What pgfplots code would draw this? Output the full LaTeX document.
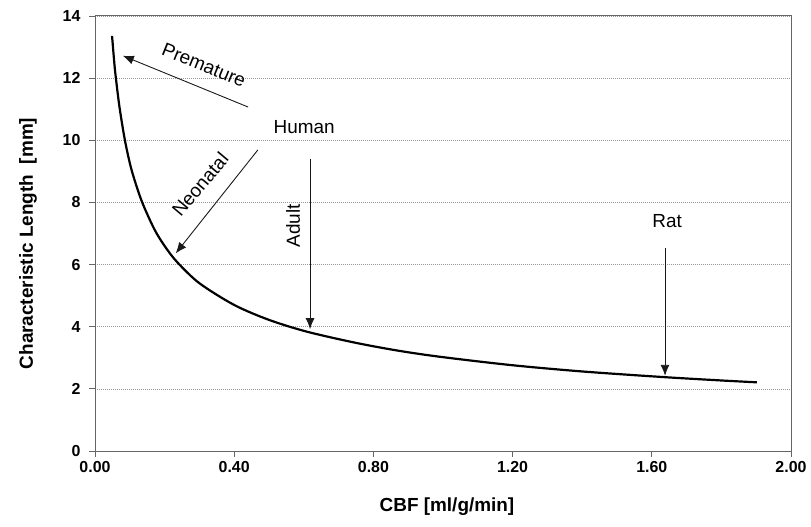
\documentclass[border=0pt]{standalone}
\usepackage{pgfplots}
\pgfplotsset{compat=1.18}
\usetikzlibrary{arrows.meta}
\usepackage{fontspec}
\setmainfont{Liberation Sans}
\begin{document}
\begin{tikzpicture}
\begin{axis}[
  scale only axis,
  width=696bp, height=435bp,
  xmin=0, xmax=2, ymin=0, ymax=14,
  xtick={0,0.4,0.8,1.2,1.6,2.0},
  xticklabels={0.00,0.40,0.80,1.20,1.60,2.00},
  ytick={0,2,4,6,8,10,12,14},
  /pgf/number format/assume math mode=true,
  ticklabel style={font=\fontsize{16}{18}\selectfont\bfseries},
  yticklabel style={xshift=-5bp},
  xticklabel style={yshift=-1bp},
  tick align=outside, xtick pos=bottom, ytick pos=left,
  major tick length=6bp,
  tick style={gray!80!black, line width=0.8pt},
  axis line style={gray!80!black, line width=1pt},
  ymajorgrids,
  grid style={dash pattern=on 1bp off 1bp, gray!80, line width=0.7pt},
  xlabel={CBF [ml/g/min]},
  ylabel={Characteristic Length\ \ [mm]},
  label style={font=\fontsize{19}{21}\selectfont\bfseries},
  xlabel style={at={(axis description cs:0.5,0)}, anchor=center, yshift=-56bp, xshift=4bp},
  ylabel style={at={(axis description cs:0,0.5)}, anchor=center, xshift=-10bp, yshift=67bp},
  clip=false,
]
\addplot[black, line width=2.2pt, smooth, tension=0.5] coordinates {
(0.049,13.36) (0.055,12.55) (0.059,12.1) (0.07,11.1) (0.086,10.0) (0.105,9.05)
(0.134,8.05) (0.17,7.15) (0.20,6.60) (0.236,6.08) (0.30,5.40) (0.40,4.70) (0.50,4.22)
(0.609,3.84) (0.75,3.48) (0.876,3.22) (1.0,3.02) (1.2,2.76) (1.4,2.56)
(1.632,2.38) (1.8,2.27) (1.902,2.21)
};
\begin{scope}[line width=0.9pt, gray!20!black, -{Latex[length=11bp,width=9bp]}]
\draw (axis cs:0.440,11.07) -- (axis cs:0.080,12.72);
\draw (axis cs:0.468,9.69) -- (axis cs:0.232,6.36);
\draw (axis cs:0.618,9.40) -- (axis cs:0.618,3.92);
\draw (axis cs:1.638,6.53) -- (axis cs:1.638,2.42);
\end{scope}
\node[rotate=-22, font=\fontsize{19}{21}\selectfont] at (axis cs:0.313,12.42) {Premature};
\node[font=\fontsize{19}{21}\selectfont] at (axis cs:0.601,10.43) {Human};
\node[rotate=50, font=\fontsize{19}{21}\selectfont] at (axis cs:0.302,8.58) {Neonatal};
\node[rotate=90, font=\fontsize{19}{21}\selectfont] at (axis cs:0.569,7.24) {Adult};
\node[font=\fontsize{19}{21}\selectfont] at (axis cs:1.644,7.40) {Rat};
\path (rel axis cs:0,0) ++(-95bp,-76bp) coordinate (bbA);
\path (rel axis cs:1,1) ++(20bp,16bp) coordinate (bbB);
\end{axis}
\path[use as bounding box] (bbA) rectangle (bbB);
\end{tikzpicture}
\end{document}
